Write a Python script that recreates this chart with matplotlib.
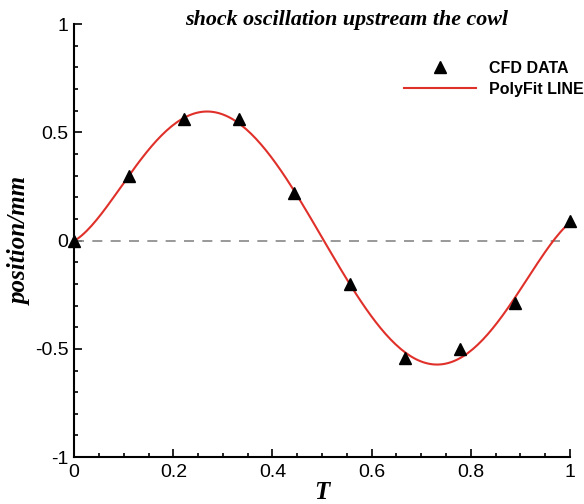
import numpy as np
import matplotlib.pyplot as plt
from matplotlib.ticker import MultipleLocator

# CFD samples over one period
t_cfd = [0.0, 0.111, 0.222, 0.333, 0.444, 0.556, 0.667, 0.778, 0.889, 1.0]
pos_cfd = [0.0, 0.30, 0.56, 0.56, 0.22, -0.20, -0.54, -0.50, -0.29, 0.09]

title = "shock oscillation upstream the cowl"
xticks = [0, 0.2, 0.4, 0.6, 0.8, 1]
yticks = [-1, -0.5, 0, 0.5, 1]
ytick_labels = ["-1", "-0.5", "0", "0.5", "1"]

# polynomial fit of the CFD data
coef = np.polyfit(t_cfd, pos_cfd, 5)
t_fit = np.linspace(0, 1, 200)
pos_fit = np.polyval(coef, t_fit)

serif = ["Liberation Serif", "DejaVu Serif"]
sans = ["Liberation Sans", "DejaVu Sans"]

fig = plt.figure(figsize=(5.84, 5.04), dpi=100)
ax = fig.add_axes([0.127, 0.093, 0.849, 0.859])

ax.hlines(0, 0, 0.98, colors="#888888", linestyles=(0, (6, 5)), linewidth=1.2)
ax.plot(t_fit, pos_fit, color="#e0302a", linewidth=1.5, label="PolyFit LINE", zorder=3)
ax.plot(t_cfd, pos_cfd, linestyle="none", marker="^", markersize=8.5,
        color="black", label="CFD DATA", zorder=4, clip_on=False)

ax.set_xlim(0, 1)
ax.set_ylim(-1, 1)
ax.set_xticks(xticks)
ax.set_xticklabels([f"{v:g}" for v in xticks], family=sans, fontsize=14)
ax.set_yticks(yticks)
ax.set_yticklabels(ytick_labels, family=sans, fontsize=14)
ax.xaxis.set_minor_locator(MultipleLocator(0.05))
ax.yaxis.set_minor_locator(MultipleLocator(0.1))
ax.tick_params(which="both", direction="in", width=1.2)
ax.tick_params(which="major", length=5.5)
ax.tick_params(which="minor", length=3)
ax.tick_params(axis="x", pad=5)
ax.tick_params(axis="y", pad=4)
for s in ["top", "right"]:
    ax.spines[s].set_visible(False)
for s in ["left", "bottom"]:
    ax.spines[s].set_linewidth(1.5)

ax.set_xlabel("T", family=serif, fontsize=18, fontweight="bold", style="italic", labelpad=0)
ax.set_ylabel("position/mm", family=serif, fontsize=18, fontweight="bold", style="italic", labelpad=2)
fig.text(0.594, 0.960, title, family=serif, fontsize=15.8, fontweight="bold",
         style="italic", ha="center", va="center")

handles, labels = ax.get_legend_handles_labels()
leg = ax.legend(handles[::-1], labels[::-1], loc="upper right", bbox_to_anchor=(1.028, 0.915),
                frameon=False, prop={"family": sans, "weight": "bold", "size": 11.5},
                borderaxespad=0, borderpad=0,
                handlelength=4.5, handletextpad=0.8, labelspacing=0.35)

fig.savefig("out.png", dpi=100)
